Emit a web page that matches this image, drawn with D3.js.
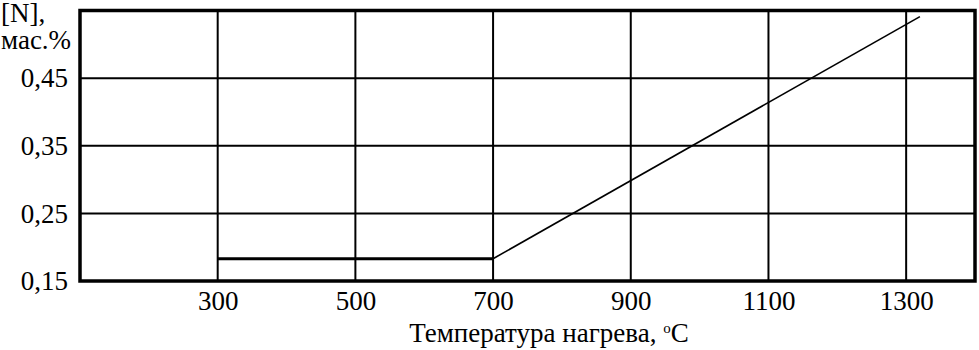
<!DOCTYPE html>
<html>
<head>
<meta charset="utf-8">
<script src="https://cdn.jsdelivr.net/npm/d3@7"></script>
<style>
  body { margin: 0; background: #fff; }
  text { font-family: "Liberation Serif", "Times New Roman", serif; fill: #000; }
</style>
</head>
<body>
<svg id="chart"></svg>
<script>
// data
var xTicks = [300, 500, 700, 900, 1100, 1300];
var yTicks = [0.15, 0.25, 0.35, 0.45];
var flatTemp = [300, 700];
var flatN = [0.183, 0.183];
var riseTemp = [700, 1320];
var riseN = [0.183, 0.541];

var width = 979, height = 350;
var padL = 80, padR = 975, padT = 10.5, padB = 281;
var fontSize = "27px";

var svg = d3.select("#chart")
  .attr("width", width)
  .attr("height", height);

var xScale = d3.scaleLinear().domain([100, 1400]).range([padL, padR]);
var yScale = d3.scaleLinear().domain([0.15, 0.55]).range([padB, padT]);

var fmt = function(d){ return d3.format(".2f")(d).replace(".", ","); };

// grid
var grid = svg.append("g");
grid.selectAll(".vline").data(xTicks).enter().append("line")
  .attr("x1", function(d){ return xScale(d); })
  .attr("x2", function(d){ return xScale(d); })
  .attr("y1", padT).attr("y2", padB)
  .style("stroke", "#000").style("stroke-width", 2);
grid.selectAll(".hline").data(yTicks).enter().append("line")
  .attr("x1", padL).attr("x2", padR)
  .attr("y1", function(d){ return yScale(d); })
  .attr("y2", function(d){ return yScale(d); })
  .style("stroke", "#000").style("stroke-width", 2);

// frame
svg.append("rect")
  .attr("x", padL).attr("y", padT)
  .attr("width", padR - padL).attr("height", padB - padT)
  .style("fill", "none").style("stroke", "#000").style("stroke-width", 3.5);

// axes (labels only)
var xAxis = d3.axisBottom(xScale).tickValues(xTicks).tickSize(0).tickPadding(10).tickFormat(d3.format("d"));
svg.append("g").attr("transform", "translate(0," + padB + ")").call(xAxis)
  .call(function(g){ g.select(".domain").remove(); })
  .attr("font-family", null).attr("font-size", null)
  .selectAll("text").style("font-size", fontSize);

var yAxis = d3.axisLeft(yScale).tickValues(yTicks).tickSize(0).tickPadding(12).tickFormat(fmt);
svg.append("g").attr("transform", "translate(" + padL + ",0)").call(yAxis)
  .call(function(g){ g.select(".domain").remove(); })
  .attr("font-family", null).attr("font-size", null)
  .selectAll("text").style("font-size", fontSize);

// lines
var line = d3.line()
  .x(function(d){ return xScale(d[0]); })
  .y(function(d){ return yScale(d[1]); });

svg.append("path")
  .datum(d3.zip(flatTemp, flatN))
  .attr("d", line)
  .style("fill", "none").style("stroke", "#000").style("stroke-width", 3);

svg.append("path")
  .datum(d3.zip(riseTemp, riseN))
  .attr("d", line)
  .style("fill", "none").style("stroke", "#000").style("stroke-width", 1.6);

// y title
svg.append("text").attr("x", 1).attr("y", 22)
  .style("font-size", fontSize).text("[N],");
svg.append("text").attr("x", 1).attr("y", 49)
  .style("font-size", fontSize).text("мас.%");

// x title
var xt = svg.append("text").attr("x", 549).attr("y", 342)
  .attr("text-anchor", "middle").style("font-size", fontSize);
xt.append("tspan").text("Температура нагрева, ");
xt.append("tspan").attr("dy", -9).style("font-size", "15px").text("o");
xt.append("tspan").attr("dy", 9).text("C");
</script>
</body>
</html>
